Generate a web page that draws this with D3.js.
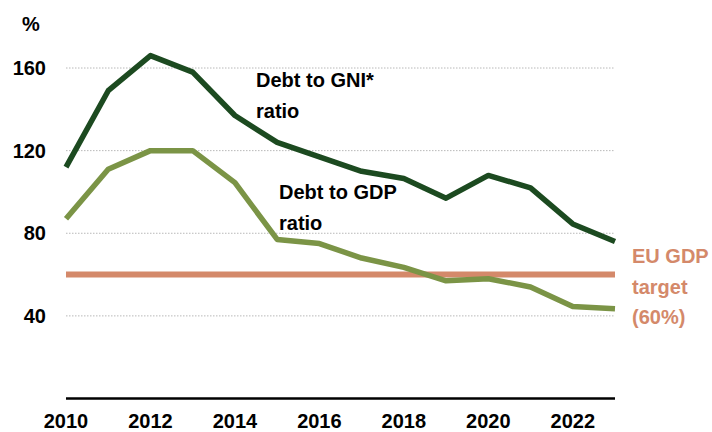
<!DOCTYPE html>
<html>
<head>
<meta charset="utf-8">
<script src="https://cdn.jsdelivr.net/npm/d3@7"></script>
<style>
  body { margin: 0; background: #fff; }
  text { font-family: "Liberation Sans", Arial, sans-serif; font-weight: bold; }
</style>
</head>
<body>
<script>
var years = [2010,2011,2012,2013,2014,2015,2016,2017,2018,2019,2020,2021,2022,2023];
var gni = [112,149,166,158,137,124,117,110,106.5,97,108,102,84.5,76];
var gdp = [87,111,120,120,104.5,77,75,68,63.5,57,58,54,44.5,43.5];
var target = 60;
var yTicks = [40,80,120,160];
var xTicks = [2010,2012,2014,2016,2018,2020,2022];

var w = 712, h = 432;
var svg = d3.select("body").append("svg")
  .attr("width", w).attr("height", h);

var x = d3.scaleLinear().domain([2010,2023]).range([66,615]);
var y = d3.scaleLinear().domain([0,160]).range([398.5,68]);

// gridlines
svg.append("g").selectAll("line")
  .data(yTicks).enter().append("line")
  .attr("x1", 66).attr("x2", 614)
  .attr("y1", d => y(d)).attr("y2", d => y(d))
  .attr("stroke", "#b8b8b8").attr("stroke-width", 1)
  .attr("stroke-dasharray", "1.5,1.5");

// y tick labels
svg.append("g").selectAll("text")
  .data(yTicks).enter().append("text")
  .attr("x", 46).attr("y", d => y(d) + 7)
  .attr("text-anchor", "end")
  .style("font-size", "20px")
  .text(d => d);

svg.append("text").attr("x", 22).attr("y", 31)
  .style("font-size", "20px").text("%");

// x axis
svg.append("line")
  .attr("x1", 66).attr("x2", 615)
  .attr("y1", 398.5).attr("y2", 398.5)
  .attr("stroke", "#000").attr("stroke-width", 2.5);

svg.append("g").selectAll("text")
  .data(xTicks).enter().append("text")
  .attr("x", d => x(d)).attr("y", 428)
  .attr("text-anchor", "middle")
  .style("font-size", "20px")
  .text(d => d);

// target line
svg.append("line")
  .attr("x1", 66).attr("x2", 615)
  .attr("y1", y(target)).attr("y2", y(target))
  .attr("stroke", "#d4896a").attr("stroke-width", 6);

var line = d3.line()
  .x((d,i) => x(years[i]))
  .y(d => y(d));

svg.append("path").datum(gdp)
  .attr("d", line).attr("fill", "none")
  .attr("stroke", "#7b9446").attr("stroke-width", 5.5)
  .attr("stroke-linejoin", "round");

svg.append("path").datum(gni)
  .attr("d", line).attr("fill", "none")
  .attr("stroke", "#1c4a20").attr("stroke-width", 5.5)
  .attr("stroke-linejoin", "round");

// labels
function label(lines, lx, ly, col){
  svg.append("g").selectAll("text")
    .data(lines).enter().append("text")
    .attr("x", lx).attr("y", (d,i) => ly + i*30.5)
    .attr("fill", col)
    .style("font-size", "20px")
    .text(d => d);
}
label(["Debt to GNI*","ratio"], 256, 87, "#000");
label(["Debt to GDP","ratio"], 279, 199, "#000");
label(["EU GDP","target","(60%)"], 632, 263, "#d4896a");
</script>
</body>
</html>
